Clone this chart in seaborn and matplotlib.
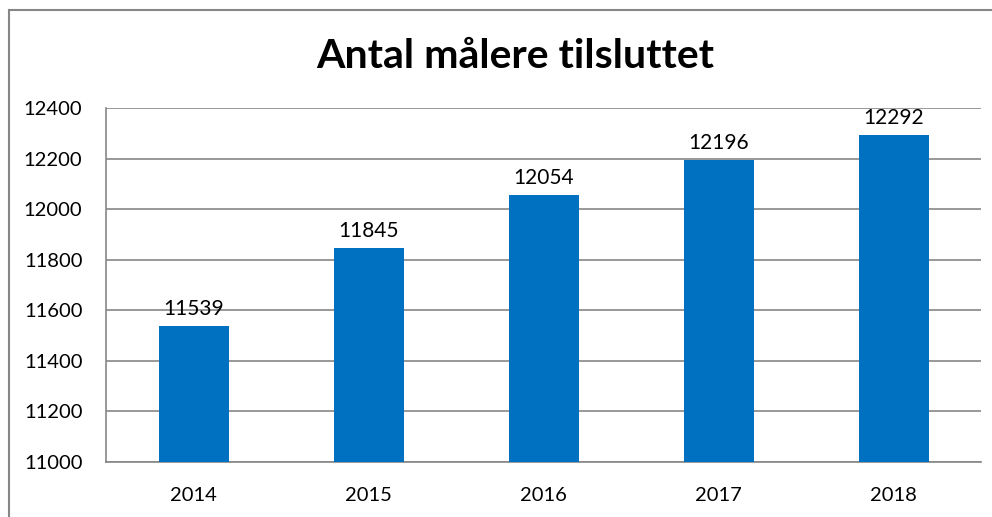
import matplotlib.pyplot as plt
import matplotlib.patches as mpatches
import pandas as pd
import seaborn as sns

years = ["2014", "2015", "2016", "2017", "2018"]
meters = [11539, 11845, 12054, 12196, 12292]
y_ticks = [11000, 11200, 11400, 11600, 11800, 12000, 12200, 12400]
title = "Antal målere tilsluttet"

df = pd.DataFrame({"year": years, "meters": meters})

sns.set_style("white")
plt.rcParams["font.family"] = ["Lato", "DejaVu Sans"]
plt.rcParams["text.color"] = "black"

fig = plt.figure(figsize=(9.92, 5.17), dpi=100)
ax = fig.add_axes([106 / 992, 1 - 462 / 517, 875 / 992, 354 / 517])

sns.barplot(data=df, x="year", y="meters", color="#0070C0", width=0.4,
            saturation=1, linewidth=0, ax=ax, zorder=3)

ax.set_ylim(11000, 12400)
ax.set_yticks(y_ticks)
ax.set_xlim(-0.5, 4.5)
ax.grid(axis="y", color="#868686", linewidth=1.2, zorder=0)
ax.set_axisbelow(True)
ax.set_xlabel("")
ax.set_ylabel("")

for side in ["top", "right"]:
    ax.spines[side].set_visible(False)
for side in ["left", "bottom"]:
    ax.spines[side].set_color("#868686")
    ax.spines[side].set_linewidth(1.2)

ax.tick_params(axis="y", length=5, width=1.2, color="#868686", labelsize=14.5,
               pad=12, labelcolor="black")
ax.tick_params(axis="x", length=0, labelsize=14.5, pad=18, labelcolor="black")
# x ticks sit between categories, Excel style
ax.set_xticks([i - 0.5 for i in range(6)], minor=True)
ax.tick_params(axis="x", which="minor", length=5, width=1.2, color="#868686")

for i, v in enumerate(meters):
    ax.text(i, v + 28, str(v), ha="center", va="bottom", fontsize=15)

fig.text(0.519, 1 - 56 / 517, title, ha="center", va="center",
         fontsize=29.5, fontweight="bold")

# chart frame
frame = mpatches.Rectangle((9 / 992, -0.1), 1.2, 1 - 10 / 517 + 0.1,
                           transform=fig.transFigure, fill=False,
                           edgecolor="#868686", linewidth=1.5)
fig.patches.append(frame)

fig.savefig("out.png", dpi=100)
